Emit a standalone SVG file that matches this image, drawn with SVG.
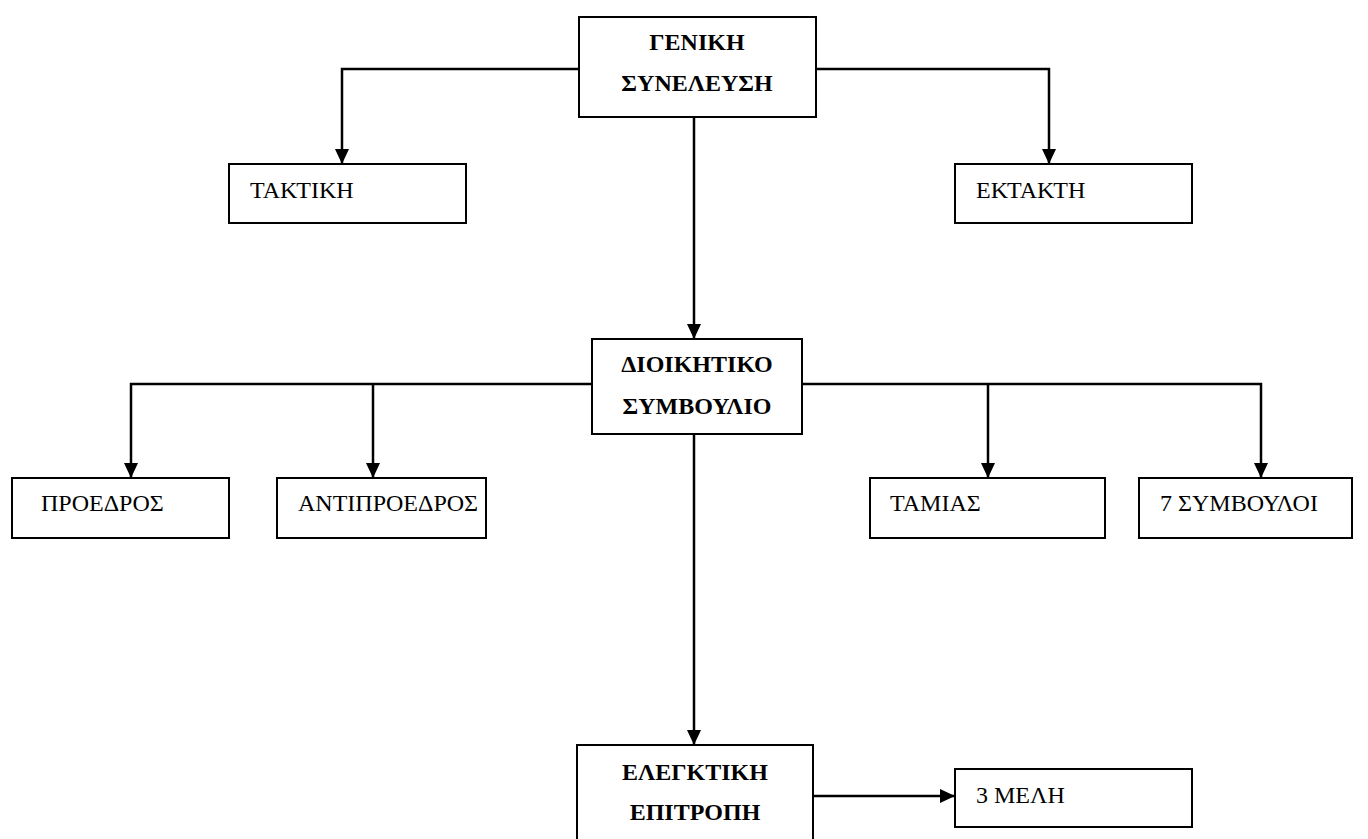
<svg xmlns="http://www.w3.org/2000/svg" width="1368" height="839" viewBox="0 0 1368 839">
<style>
.box{fill:#fff;stroke:#000;stroke-width:2}
.t{font-family:"Liberation Serif","Times New Roman",serif;font-size:24px;fill:#000}
.b{font-weight:bold;text-anchor:middle}
.c{fill:none;stroke:#000;stroke-width:2.5}
</style>
<defs>
<marker id="ah" markerUnits="userSpaceOnUse" markerWidth="16" markerHeight="16" viewBox="0 0 16 16" refX="15" refY="8" orient="auto">
<path d="M0,1 L15,8 L0,15 Z" fill="#000"/>
</marker>
</defs>
<rect width="1368" height="839" fill="#fff"/>
<g id="connectors">
<path class="c" d="M579,69 H342 V164" marker-end="url(#ah)"/>
<path class="c" d="M816,69 H1049 V164" marker-end="url(#ah)"/>
<path class="c" d="M694,117 V339" marker-end="url(#ah)"/>
<path class="c" d="M592,384 H131 V478" marker-end="url(#ah)"/>
<path class="c" d="M373,384 V478" marker-end="url(#ah)"/>
<path class="c" d="M802,384 H1261 V478" marker-end="url(#ah)"/>
<path class="c" d="M988,384 V478" marker-end="url(#ah)"/>
<path class="c" d="M694,434 V745" marker-end="url(#ah)"/>
<path class="c" d="M813,796 H955" marker-end="url(#ah)"/>
</g>
<g id="geniki">
<rect class="box" x="579" y="17" width="237" height="100"/>
<text class="t b" x="697" y="50">ΓΕΝΙΚΗ</text>
<text class="t b" x="697" y="91">ΣΥΝΕΛΕΥΣΗ</text>
</g>
<g id="taktiki">
<rect class="box" x="229" y="164" width="237" height="59"/>
<text class="t" x="250" y="198">ΤΑΚΤΙΚΗ</text>
</g>
<g id="ektakti">
<rect class="box" x="955" y="164" width="237" height="59"/>
<text class="t" x="976" y="198">ΕΚΤΑΚΤΗ</text>
</g>
<g id="dioikitiko">
<rect class="box" x="592" y="339" width="210" height="95"/>
<text class="t b" x="697" y="372">ΔΙΟΙΚΗΤΙΚΟ</text>
<text class="t b" x="697" y="414">ΣΥΜΒΟΥΛΙΟ</text>
</g>
<g id="proedros">
<rect class="box" x="12" y="478" width="217" height="60"/>
<text class="t" x="41" y="511">ΠΡΟΕΔΡΟΣ</text>
</g>
<g id="antiproedros">
<rect class="box" x="277" y="478" width="209" height="60"/>
<text class="t" x="298" y="511">ΑΝΤΙΠΡΟΕΔΡΟΣ</text>
</g>
<g id="tamias">
<rect class="box" x="870" y="478" width="235" height="60"/>
<text class="t" x="890" y="511">ΤΑΜΙΑΣ</text>
</g>
<g id="symvouloi">
<rect class="box" x="1139" y="478" width="213" height="60"/>
<text class="t" x="1160" y="511">7 ΣΥΜΒΟΥΛΟΙ</text>
</g>
<g id="elegktiki">
<rect class="box" x="577" y="745" width="236" height="100"/>
<text class="t b" x="695" y="780">ΕΛΕΓΚΤΙΚΗ</text>
<text class="t b" x="695" y="820">ΕΠΙΤΡΟΠΗ</text>
</g>
<g id="meli">
<rect class="box" x="955" y="769" width="237" height="58"/>
<text class="t" x="976" y="803">3 ΜΕΛΗ</text>
</g>
</svg>
